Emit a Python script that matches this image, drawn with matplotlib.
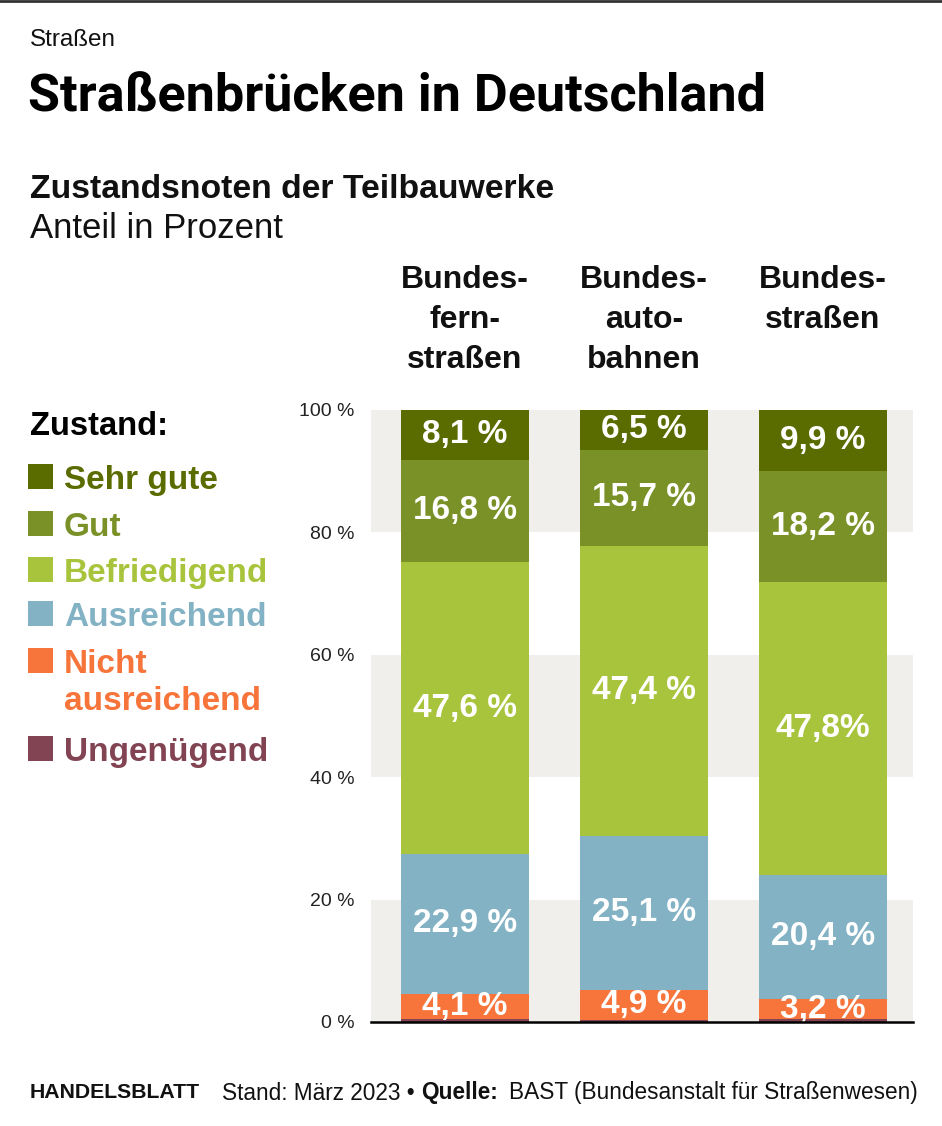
import matplotlib
matplotlib.use("Agg")
import matplotlib.pyplot as plt
import matplotlib.transforms as mtransforms
from matplotlib.patches import Rectangle
from matplotlib.lines import Line2D

plt.rcParams['font.family'] = ['Liberation Sans', 'DejaVu Sans']

# data
kategorien = ["Bundes-\nfern-\nstraßen", "Bundes-\nauto-\nbahnen", "Bundes-\nstraßen"]
zustaende = ["Ungenügend", "Nicht\nausreichend", "Ausreichend", "Befriedigend", "Gut", "Sehr gute"]
farben = ["#824452", "#f7743a", "#82b2c4", "#a8c43c", "#7a9128", "#5a6b00"]
ungenuegend = [0.5, 0.4, 0.5]
nicht_ausreichend = [4.1, 4.9, 3.2]
ausreichend = [22.9, 25.1, 20.4]
befriedigend = [47.6, 47.4, 47.8]
gut = [16.8, 15.7, 18.2]
sehr_gut = [8.1, 6.5, 9.9]
werte = [ungenuegend, nicht_ausreichend, ausreichend, befriedigend, gut, sehr_gut]
beschriftungen = [
    [None, None, None],
    ["4,1 %", "4,9 %", "3,2 %"],
    ["22,9 %", "25,1 %", "20,4 %"],
    ["47,6 %", "47,4 %", "47,8%"],
    ["16,8 %", "15,7 %", "18,2 %"],
    ["8,1 %", "6,5 %", "9,9 %"],
]
yticks = [0, 20, 40, 60, 80, 100]
ytick_labels = ["0 %", "20 %", "40 %", "60 %", "80 %", "100 %"]

W, H = 942, 1126
fig = plt.figure(figsize=(W / 100, H / 100), dpi=100)

def fx(px):
    return px / W

def fy(py):
    return 1 - py / H

# top border
fig.add_artist(Line2D([0, 1], [fy(1), fy(1)], color="#333333", lw=2))

# headings
fig.text(fx(30), fy(40), "Straßen", fontsize=17.5, va="center", color="#111111")
fig.text(fx(28), fy(97), "Straßenbrücken in Deutschland", fontsize=37.5, fontweight="bold",
         family=["Roboto", "DejaVu Sans"], va="center", color="black")
fig.text(fx(30), fy(189), "Zustandsnoten der Teilbauwerke", fontsize=24.3, fontweight="bold",
         va="center", color="#111111")
fig.text(fx(30), fy(229), "Anteil in Prozent", fontsize=25, va="center", color="#111111")

# chart
ax = fig.add_axes([fx(371), fy(1022), fx(913 - 371), (1022 - 410) / H])
x = list(range(len(kategorien)))
for lo, hi in [(0, 20), (40, 60), (80, 100)]:
    ax.axhspan(lo, hi, color="#f0efeb", lw=0, zorder=0)

unten = [0.0] * len(x)
for serie, farbe, texte in zip(werte, farben, beschriftungen):
    ax.bar(x, serie, bottom=unten, width=0.715, color=farbe, lw=0, zorder=2)
    for i, (v, t) in enumerate(zip(serie, texte)):
        if t:
            ax.text(i, unten[i] + v / 2, t, ha="center", va="center", color="white",
                    fontsize=24, fontweight="bold", zorder=3)
    unten = [u + v for u, v in zip(unten, serie)]

ax.set_xlim(-0.525, 2.503)
ax.set_ylim(0, 100)
ax.set_xticks([])
ax.set_yticks(yticks)
ax.set_yticklabels(ytick_labels)
ax.tick_params(axis="y", length=0, pad=12, labelsize=14, labelcolor="#222222")
for s in ["left", "right", "top"]:
    ax.spines[s].set_visible(False)
ax.spines["bottom"].set_color("black")
ax.spines["bottom"].set_linewidth(1.8)
ax.spines["bottom"].set_zorder(4)
ax.set_facecolor("none")

# category headers
trans = mtransforms.blended_transform_factory(ax.transData, fig.transFigure)
for i, k in enumerate(kategorien):
    ax.text(i, fy(265), k, transform=trans, ha="center", va="top", fontsize=23,
            fontweight="bold", linespacing=1.43, color="#111111")

# legend
fig.text(fx(30), fy(435), "Zustand:", fontsize=23.5, fontweight="bold", va="baseline", color="black")
sq_bottom = [761, 673, 626, 582, 536, 489]
for name, farbe, sb in zip(zustaende, farben, sq_bottom):
    fig.add_artist(Rectangle((fx(28), fy(sb)), fx(25), 25 / H, color=farbe, lw=0))
    for j, zeile in enumerate(name.split("\n")):
        fig.text(fx(64), fy(sb + 37 * j), zeile, fontsize=24, fontweight="bold",
                 color=farbe, va="baseline")

# footer
renderer = fig.canvas.get_renderer()
fig.text(fx(30), fy(1093), "HANDELSBLATT", fontsize=15.3, fontweight="bold", va="center",
         color="#111111")
teile = [("Stand: März 2023 •", "normal", 7), ("Quelle:", "bold", 11),
         ("BAST (Bundesanstalt für Straßenwesen)", "normal", 0)]
xpos = 222
for txt, fw, gap in teile:
    t = fig.text(fx(xpos), fy(1093), txt, fontsize=16.3, fontweight=fw, va="center", color="#111111")
    bb = t.get_window_extent(renderer=renderer)
    xpos += bb.width + gap

fig.savefig("out.png", dpi=100)
